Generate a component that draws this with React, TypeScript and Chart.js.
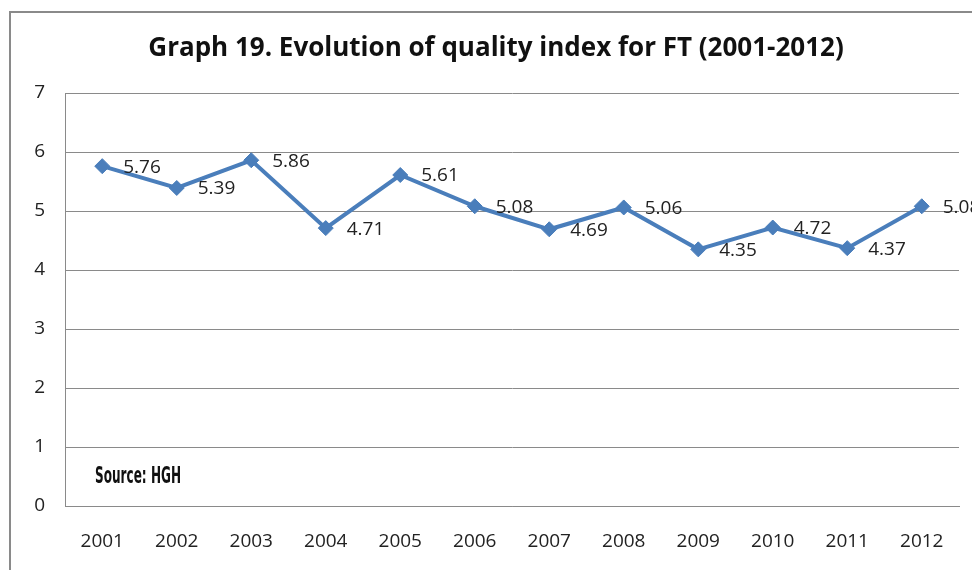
import React, { useEffect, useRef } from "react";
import { Chart, registerables } from "chart.js";

Chart.register(...registerables);

const categories = ["2001", "2002", "2003", "2004", "2005", "2006", "2007", "2008", "2009", "2010", "2011", "2012"];
const qualityIndex = [5.76, 5.39, 5.86, 4.71, 5.61, 5.08, 4.69, 5.06, 4.35, 4.72, 4.37, 5.08];
const yTicks = [0, 1, 2, 3, 4, 5, 6, 7];
const titleText = "Graph 19. Evolution of quality index for FT (2001-2012)";
const sourceText = "Source: HGH";

const FONT = "'Open Sans', sans-serif";

const decorPlugin = {
  id: "decor",
  beforeDraw(chart: any) {
    const ctx = chart.ctx;
    ctx.save();
    ctx.fillStyle = "#ffffff";
    ctx.fillRect(0, 0, chart.width, chart.height);
    ctx.strokeStyle = "#8a8a8a";
    ctx.lineWidth = 2;
    ctx.beginPath();
    ctx.moveTo(10, chart.height + 5);
    ctx.lineTo(10, 12);
    ctx.lineTo(chart.width + 5, 12);
    ctx.stroke();
    ctx.restore();
  },
  afterDraw(chart: any) {
    const ctx = chart.ctx;
    ctx.save();
    // title
    ctx.fillStyle = "#111111";
    ctx.font = `bold 26px ${FONT}`;
    ctx.textAlign = "center";
    ctx.textBaseline = "middle";
    ctx.fillText(titleText, 496, 49);
    // data labels
    const meta = chart.getDatasetMeta(0);
    ctx.font = `19px ${FONT}`;
    ctx.fillStyle = "#222222";
    ctx.textAlign = "left";
    ctx.textBaseline = "middle";
    meta.data.forEach((pt: any, i: number) => {
      ctx.fillText(qualityIndex[i].toFixed(2), pt.x + 21, pt.y + 1);
    });
    // source
    ctx.font = `bold 23px 'DejaVu Sans Condensed', 'DejaVu Sans', sans-serif`;
    const w = ctx.measureText(sourceText).width;
    ctx.translate(95, 477);
    ctx.scale(86 / w, 1);
    ctx.fillStyle = "#111111";
    ctx.textBaseline = "middle";
    ctx.fillText(sourceText, 0, 0);
    ctx.restore();
  },
};

export default function App() {
  const ref = useRef<HTMLCanvasElement | null>(null);
  useEffect(() => {
    if (!ref.current) return;
    const chart = new Chart(ref.current, {
      type: "line",
      data: {
        labels: categories,
        datasets: [
          {
            data: qualityIndex,
            borderColor: "#4a7ebb",
            backgroundColor: "#4a7ebb",
            borderWidth: 4,
            pointStyle: "rectRot",
            pointRadius: 7.5,
            pointBorderWidth: 1,
            pointBorderColor: "#4a7ebb",
            pointBackgroundColor: "#4a7ebb",
            tension: 0,
          },
        ],
      },
      options: {
        animation: false,
        responsive: false,
        devicePixelRatio: 1,
        layout: { padding: { left: 0, top: 93, right: 13, bottom: 0 } },
        plugins: { legend: { display: false }, title: { display: false }, tooltip: { enabled: false } },
        scales: {
          x: {
            offset: true,
            grid: { display: false, drawTicks: false },
            border: { display: true, color: "#8a8a8a", width: 1 },
            ticks: { color: "#222222", font: { family: FONT, size: 19 }, padding: 24, maxRotation: 0 },
            afterFit: (s: any) => { s.height = 64; },
          },
          y: {
            min: 0,
            max: 7,
            afterBuildTicks: (s: any) => { s.ticks = yTicks.map((v) => ({ value: v })); },
            grid: { color: "#8a8a8a", lineWidth: 1, drawTicks: false },
            border: { display: true, color: "#8a8a8a", width: 1 },
            ticks: { color: "#222222", font: { family: FONT, size: 19 }, padding: 20 },
            afterFit: (s: any) => { s.width = 65; },
          },
        },
      },
      plugins: [decorPlugin],
    });
    return () => chart.destroy();
  }, []);
  return (
    <canvas
      ref={ref}
      width={972}
      height={570}
      style={{ position: "absolute", left: 0, top: 0, width: 972, height: 570 }}
    />
  );
}
